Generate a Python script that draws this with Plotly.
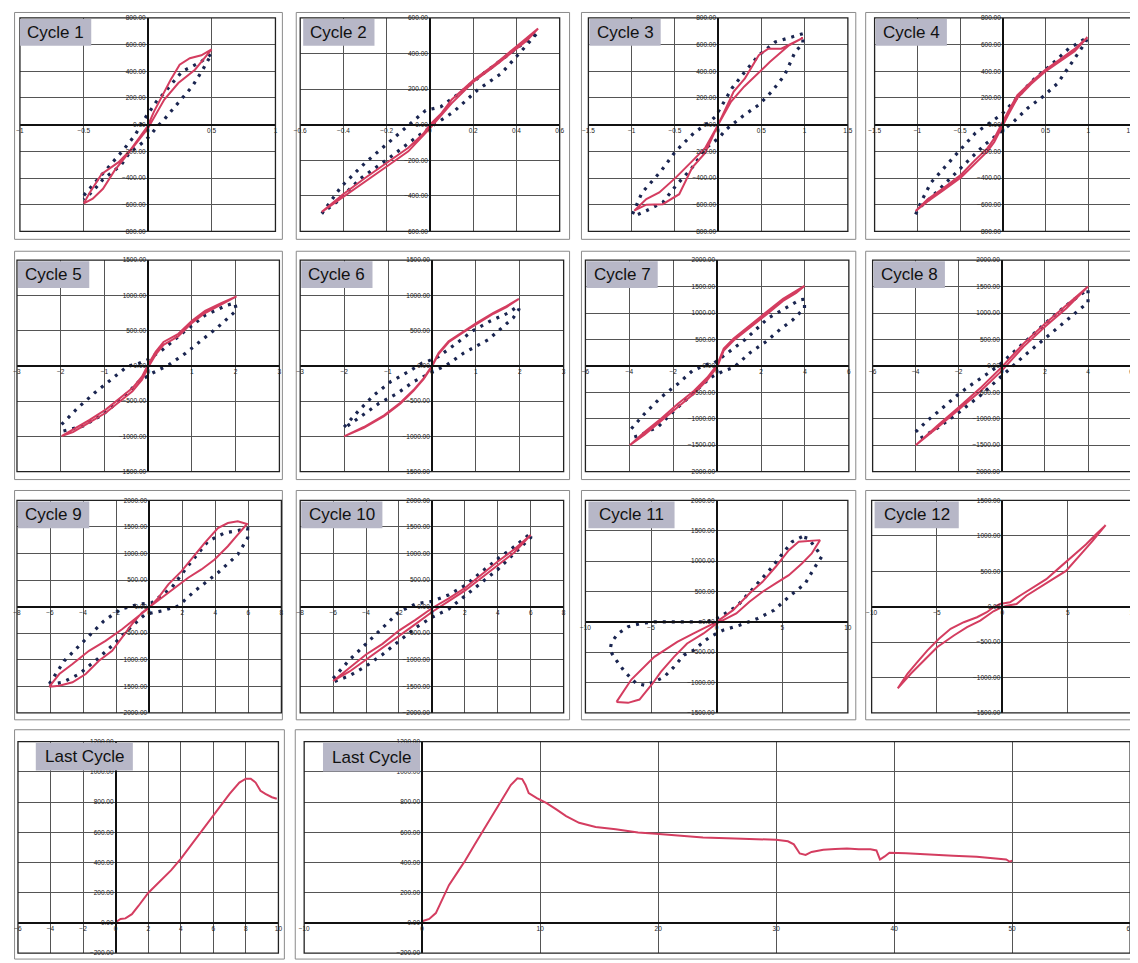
import plotly.graph_objects as go

# ======================= DATA =======================
# Cycle 1
c1_red_x = [-0.5, -0.46, -0.36, -0.23, -0.14, 0.0, 0.05, 0.18, 0.25, 0.33, 0.42, 0.5,
            0.37, 0.24, 0.13, 0.0, -0.14, -0.26, -0.35, -0.43, -0.5]
c1_red_y = [-590, -520, -370, -283, -196, -10, 100, 337, 449, 498, 520, 565,
            412, 312, 188, -30, -200, -345, -481, -555, -590]
c1_dot_x = [-0.5, -0.4, -0.3, -0.2, -0.1, -0.02, 0.07, 0.13, 0.2, 0.27, 0.35, 0.42, 0.5,
            0.43, 0.35, 0.28, 0.2, 0.13, 0.07, 0.02, -0.03, -0.14, -0.21, -0.35, -0.43, -0.5]
c1_dot_y = [-530, -420, -310, -200, -80, 50, 176, 238, 320, 400, 437, 474, 530,
            411, 288, 213, 120, 40, -20, -80, -128, -208, -305, -410, -500, -560]

# Cycle 2
c2_red_x = [-0.5, -0.4, -0.3, -0.2, -0.1, -0.03, 0.0, 0.05, 0.1, 0.2, 0.3, 0.4, 0.5,
            0.45, 0.4, 0.3, 0.2, 0.1, 0.0, -0.1, -0.2, -0.3, -0.4, -0.5]
c2_red_y = [-490, -390, -300, -215, -130, -50, 0, 60, 140, 250, 340, 440, 540,
            475, 425, 330, 240, 120, -20, -150, -235, -320, -410, -490]
c2_dot_x = [-0.5, -0.41, -0.3, -0.2, -0.1, -0.02, 0.05, 0.15, 0.25, 0.35, 0.45, 0.5,
            0.42, 0.33, 0.22, 0.11, 0.02, -0.07, -0.19, -0.32, -0.43, -0.5]
c2_dot_y = [-500, -348, -215, -110, 0, 80, 100, 190, 290, 380, 470, 520,
            410, 288, 195, 73, 0, -77, -189, -301, -433, -500]

# Cycle 3
c3_red_x = [-0.97, -0.83, -0.68, -0.49, -0.30, -0.15, 0.0, 0.18, 0.31, 0.47, 0.58, 0.73, 0.98,
            0.82, 0.6, 0.48, 0.3, 0.15, 0.0, -0.15, -0.30, -0.45, -0.64, -0.83, -0.97]
c3_red_y = [-645, -558, -508, -397, -273, -174, 0, 248, 347, 521, 570, 570, 650,
            595, 471, 397, 285, 173, 0, -211, -322, -521, -596, -600, -645]
c3_dot_x = [-0.99, -0.88, -0.66, -0.49, -0.28, -0.09, -0.03, 0.07, 0.16, 0.31, 0.47, 0.66, 0.85, 0.98,
            0.98, 0.89, 0.77, 0.62, 0.47, 0.28, 0.09, 0.01, -0.14, -0.30, -0.49, -0.64, -0.83, -0.96]
c3_dot_y = [-670, -509, -347, -198, -62, 25, 62, 174, 273, 397, 521, 620, 657, 682,
            608, 546, 372, 248, 149, 62, -37, -99, -174, -322, -459, -583, -645, -682]

# Cycle 4
c4_red_x = [-1.02, -0.88, -0.69, -0.49, -0.34, -0.18, -0.1, -0.02, 0.06, 0.17, 0.33, 0.49, 0.68, 0.84, 0.99,
            0.84, 0.68, 0.49, 0.33, 0.17, 0.06, -0.02, -0.1, -0.18, -0.34, -0.49, -0.69, -0.88, -1.02]
c4_red_y = [-647, -560, -474, -375, -275, -176, -102, -2, 97, 221, 320, 407, 494, 568, 655,
            550, 480, 395, 305, 200, 70, -30, -130, -200, -300, -395, -490, -575, -647]
c4_dot_x = [-1.02, -0.94, -0.84, -0.69, -0.53, -0.32, -0.16, -0.02, 0.13, 0.33, 0.56, 0.77, 0.99,
            0.97, 0.80, 0.64, 0.47, 0.29, 0.13, -0.02, -0.21, -0.41, -0.57, -0.72, -0.88, -1.0]
c4_dot_y = [-672, -558, -434, -323, -211, -62, 12, 74, 174, 322, 446, 570, 655,
            620, 459, 310, 211, 124, 25, -50, -149, -273, -372, -471, -571, -633]

# Cycle 5
c5_red_x = [-1.98, -1.72, -1.34, -0.97, -0.66, -0.36, -0.14, 0.0, 0.17, 0.35, 0.69, 1.0, 1.3, 1.68, 2.02,
            1.68, 1.3, 1.0, 0.69, 0.35, 0.17, 0.0, -0.14, -0.36, -0.66, -0.97, -1.34, -1.72, -1.98]
c5_red_y = [-995, -905, -765, -620, -465, -315, -150, 20, 200, 340, 455, 640, 780, 895, 986,
            870, 750, 610, 420, 300, 160, -20, -195, -360, -510, -665, -800, -940, -995]
c5_dot_x = [-1.98, -1.61, -1.23, -0.89, -0.48, -0.21, -0.02, 0.32, 0.77, 1.3, 1.79, 1.98,
            2.02, 1.6, 1.22, 0.85, 0.47, 0.09, -0.21, -0.63, -1.04, -1.49, -1.95]
c5_dot_y = [-831, -596, -385, -221, -9, 38, 85, 225, 460, 718, 859, 892,
            789, 554, 366, 178, 14, -103, -221, -479, -690, -854, -925]

# Cycle 6
c6_red_x = [-2.0, -1.55, -1.09, -0.72, -0.42, -0.19, 0.0, 0.15, 0.38, 0.72, 1.02, 1.4, 1.7, 1.98,
            1.7, 1.4, 1.02, 0.72, 0.38, 0.15, 0.0, -0.19, -0.42, -0.72, -1.09, -1.55, -2.0]
c6_red_y = [-1000, -867, -700, -524, -343, -176, 0, 181, 348, 490, 610, 752, 848, 952,
            835, 740, 598, 478, 335, 168, -12, -188, -355, -536, -712, -879, -1000]
c6_dot_x = [-2.0, -1.66, -1.32, -0.94, -0.53, -0.23, -0.11, 0.15, 0.57, 0.91, 1.32, 1.74, 1.96,
            1.98, 1.85, 1.28, 0.72, 0.34, -0.04, -0.42, -0.79, -1.21, -1.58, -1.96]
c6_dot_y = [-867, -629, -414, -224, -81, 38, 62, 133, 324, 490, 633, 752, 848,
            800, 681, 371, 181, 14, -105, -224, -390, -533, -700, -867]

# Cycle 7
c7_red_x = [-3.98, -3.31, -2.56, -1.8, -1.05, -0.45, 0.0, 0.3, 0.75, 1.5, 2.18, 3.0, 3.6, 3.98,
            3.6, 3.0, 2.18, 1.5, 0.75, 0.3, 0.0, -0.45, -1.05, -1.8, -2.56, -3.31, -3.98]
c7_red_y = [-1500, -1250, -1000, -720, -470, -220, 20, 330, 520, 770, 990, 1270, 1420, 1512,
            1380, 1230, 950, 730, 480, 290, -20, -270, -520, -780, -1050, -1300, -1500]
c7_dot_x = [-3.91, -3.31, -2.56, -1.8, -1.13, -0.45, -0.15, 0.3, 1.28, 2.33, 3.08, 3.76, 3.98,
            3.98, 3.46, 2.86, 2.26, 1.5, 0.75, 0.3, -0.3, -1.05, -1.95, -2.7, -3.53, -3.98]
c7_dot_y = [-1188, -906, -594, -344, -94, 31, 50, 188, 500, 906, 1094, 1250, 1262,
            1094, 875, 688, 469, 250, -31, -94, -219, -500, -844, -1156, -1312, -1375]

# Cycle 8
c8_red_x = [-4, -3, -2, -1, 0, 1, 2, 3, 4, 3, 2, 1, 0, -1, -2, -3, -4]
c8_red_y = [-1500, -1130, -780, -420, -20, 420, 800, 1150, 1500,
            1090, 740, 360, -90, -480, -830, -1170, -1500]
c8_dot_x = [-4, -3.5, -3, -2.5, -2, -1.5, -1, -0.5, 0, 0.5, 1, 2, 3, 4,
            4, 3, 2, 1, 0, -1, -2, -3, -4]
c8_dot_y = [-1250, -1050, -880, -700, -530, -380, -240, -100, 60, 250, 420, 800, 1150, 1450,
            1200, 850, 520, 180, -200, -560, -880, -1180, -1420]

# Cycle 9
c9_red_x = [-6.04, -5.44, -4.64, -3.64, -2.64, -1.64, -0.64, 0.0, 0.56, 1.16, 1.96, 2.76, 3.36, 4.16, 4.76, 5.36, 5.92,
            5.36, 4.76, 3.96, 3.16, 2.36, 1.56, 0.76, 0.16, -0.44, -1.04, -1.64, -2.24, -3.04, -3.84, -4.64, -5.44, -6.04]
c9_red_y = [-1506, -1269, -1081, -831, -644, -425, -175, -19, 169, 419, 669, 981, 1200, 1481, 1575, 1606, 1556,
            1356, 1138, 888, 700, 544, 356, 169, 44, -113, -331, -581, -831, -1019, -1269, -1425, -1488, -1506]
c9_dot_x = [-6.04, -5.14, -3.94, -2.74, -1.74, -0.64, 0.16, 1.36, 2.26, 3.56, 4.56, 5.96,
            5.96, 5.36, 4.16, 2.76, 1.76, 0.76, -0.24, -1.14, -2.14, -3.14, -4.24, -5.24, -6.04]
c9_dot_y = [-1456, -1019, -644, -269, -50, 44, 75, 356, 731, 1231, 1388, 1469,
            1294, 981, 638, 294, 12, -81, -144, -394, -706, -988, -1269, -1425, -1469]

# Cycle 10
c10_red_x = [-6, -5, -4, -3, -2, -1, 0, 1, 2, 3, 4, 5, 6,
             5, 4, 3, 2, 1, 0, -1, -2, -3, -4, -5, -6]
c10_red_y = [-1400, -1150, -900, -700, -450, -250, -30, 150, 350, 600, 850, 1080, 1350,
             1020, 780, 540, 300, 100, -100, -330, -550, -780, -1000, -1220, -1400]
c10_dot_x = [-6, -5, -4, -3, -2, -1, 0, 1, 2, 3, 4, 5, 6,
             6, 5, 4, 3, 2, 1, 0, -1, -2, -3, -4, -5, -6]
c10_dot_y = [-1350, -1000, -700, -400, -100, 50, 100, 220, 400, 650, 900, 1130, 1380,
             1300, 1000, 700, 450, 200, -50, -200, -400, -650, -900, -1120, -1300, -1420]

# Cycle 11
c11_red_x = [-7.63, -6.5, -4.75, -3, -1.75, -0.5, 0, 1.25, 2.5, 3.5, 4.5, 5.5, 6.25, 7.88,
             7.25, 6.5, 5.5, 4.5, 3.5, 2.5, 1.5, 0.5, 0, -1, -2.25, -3.25, -4.25, -4.88, -5.88, -6.75, -7.63]
c11_red_y = [-1319, -951, -577, -330, -192, -55, 0, 192, 467, 659, 907, 1181, 1319, 1346,
             1126, 962, 769, 632, 495, 330, 137, 27, -27, -192, -357, -577, -824, -1016, -1280, -1335, -1319]
c11_dot_x = [6.5, 5.75, 5.13, 4.25, 3, 1.63, 0.88, 0, -0.75, -2.25, -4.75, -5.75, -6.75, -7.5, -8, -8.13,
             -7.75, -7, -6.13, -5.5, -4.75, -4, -3.25, -2.5, -1.75, -1, -0.5, 0.5, 1.75, 3.13, 4.38,
             5.5, 6.75, 7.5, 8, 7.75, 7.25, 7, 6.5]
c11_dot_y = [1401, 1319, 1154, 907, 604, 275, 165, 55, 0, 0, 0, -27, -82, -192, -330, -467,
             -604, -824, -1016, -1044, -989, -907, -742, -549, -467, -330, -247, -137, -55, 55, 192,
             412, 632, 907, 1071, 1154, 1291, 1374, 1401]

# Cycle 12
c12_red_x = [-8.0, -7.25, -6.49, -5.73, -4.85, -3.96, -2.95, -1.94, -1.19, -0.68, -0.18, 0.58, 1.34, 2.35,
             3.36, 4.37, 5.38, 6.39, 7.15, 7.9,
             6.89, 5.88, 4.87, 3.86, 2.85, 1.84, 1.09, 0.33, -0.18, -0.68, -1.69, -2.7, -3.71, -4.97,
             -5.98, -6.99, -8.0]
c12_red_y = [-1154, -944, -780, -617, -453, -313, -220, -150, -79, -9, 37, 61, 154, 271,
             388, 551, 715, 879, 1019, 1150,
             925, 715, 505, 388, 271, 154, 37, 14, -19, -65, -196, -290, -407, -570,
             -757, -944, -1154]

# Last cycle (short view)
last_small_x = [0.0, 0.3, 0.6, 1.0, 1.4, 2.0, 2.6, 3.4, 4.0, 4.6, 5.4, 6.2, 7.0, 7.6, 8.0, 8.3,
                8.6, 8.9, 9.2, 9.6, 9.9]
last_small_y = [4, 26, 30, 58, 112, 198, 262, 348, 424, 510, 628, 746, 854, 929, 955, 955,
                929, 875, 854, 832, 822]

# Last cycle (full view)
last_big_x = [0.0, 0.6, 1.16, 1.7, 2.27, 3.1, 3.65, 4.48, 5.3, 6.13, 6.96, 7.51, 8.07, 8.48, 8.76,
              9.03, 9.72, 10.55, 11.4, 12.2, 13.3, 14.7, 16.4, 18.3, 19.8, 21.9, 23.8, 26.5,
              28, 30, 31, 31.5, 32, 32.5, 33, 34, 35, 36, 37, 38, 38.5, 38.8, 39.2, 39.6,
              41, 43, 45, 47, 48.5, 49.5, 49.8, 50]
last_big_y = [11, 26, 65, 152, 250, 348, 413, 522, 630, 739, 848, 913, 957, 952, 913,
              859, 826, 793, 750, 707, 663, 635, 620, 598, 591, 576, 565, 559,
              555, 550, 540, 520, 460, 450, 470, 485, 490, 492, 488, 487, 480, 420, 440, 465,
              462, 452, 445, 438, 430, 420, 405, 412]

panel_titles = ["Cycle 1", "Cycle 2", "Cycle 3", "Cycle 4", "Cycle 5", "Cycle 6", "Cycle 7",
                "Cycle 8", "Cycle 9", "Cycle 10", "Cycle 11", "Cycle 12", "Last Cycle", "Last Cycle"]

red_series = [(c1_red_x, c1_red_y), (c2_red_x, c2_red_y), (c3_red_x, c3_red_y), (c4_red_x, c4_red_y),
              (c5_red_x, c5_red_y), (c6_red_x, c6_red_y), (c7_red_x, c7_red_y), (c8_red_x, c8_red_y),
              (c9_red_x, c9_red_y), (c10_red_x, c10_red_y), (c11_red_x, c11_red_y), (c12_red_x, c12_red_y),
              (last_small_x, last_small_y), (last_big_x, last_big_y)]
dot_series = [(c1_dot_x, c1_dot_y), (c2_dot_x, c2_dot_y), (c3_dot_x, c3_dot_y), (c4_dot_x, c4_dot_y),
              (c5_dot_x, c5_dot_y), (c6_dot_x, c6_dot_y), (c7_dot_x, c7_dot_y), (c8_dot_x, c8_dot_y),
              (c9_dot_x, c9_dot_y), (c10_dot_x, c10_dot_y), (c11_dot_x, c11_dot_y), None, None, None]

# ======================= LAYOUT CONFIG =======================
W, H = 1138, 963
OX, OY = 8, 8   # page offset of the figure (body margin) - boxes below are screen pixels
# plot-area boxes in screen pixels (left, top, right, bottom), axis ranges and grid steps
panels = [
    dict(box=(14, 14, 272, 229), xr=(-1, 1), yr=(-800, 800), dx=0.5, dy=200),
    dict(box=(297, 14, 559, 229), xr=(-0.6, 0.6), yr=(-600, 600), dx=0.2, dy=200),
    dict(box=(588, 14, 850, 229), xr=(-1.5, 1.5), yr=(-800, 800), dx=0.5, dy=200),
    dict(box=(877, 14, 1136, 229), xr=(-1.5, 1.5), yr=(-800, 800), dx=0.5, dy=200),
    dict(box=(11, 258, 276, 471), xr=(-3, 3), yr=(-1500, 1500), dx=1, dy=500),
    dict(box=(297, 258, 563, 471), xr=(-3, 3), yr=(-1500, 1500), dx=1, dy=500),
    dict(box=(585, 258, 851, 471), xr=(-6, 6), yr=(-2000, 2000), dx=2, dy=500),
    dict(box=(875, 258, 1136, 471), xr=(-6, 6), yr=(-2000, 2000), dx=2, dy=500),
    dict(box=(11, 500, 278, 714), xr=(-8, 8), yr=(-2000, 2000), dx=2, dy=500),
    dict(box=(297, 500, 563, 714), xr=(-8, 8), yr=(-2000, 2000), dx=2, dy=500),
    dict(box=(585, 500, 850, 714), xr=(-10, 10), yr=(-1500, 2000), dx=5, dy=500),
    dict(box=(874, 500, 1138, 714), xr=(-10, 10), yr=(-1500, 1500), dx=5, dy=500),
    dict(box=(12, 743, 275, 956), xr=(-6, 10), yr=(-200, 1200), dx=2, dy=200),
    dict(box=(301, 743, 1135, 956), xr=(-10, 60), yr=(-200, 1200), dx=10, dy=200),
]
title_boxes = [  # (offset from plot left, width, height)
    (0, 72, 27), (3, 72, 27), (1, 72, 27), (1, 72, 27),
    (1, 72, 27), (1, 72, 27), (1, 72, 27), (1, 72, 27),
    (1, 72, 27), (1, 82, 27), (3, 87, 27), (3, 85, 27),
    (18, 98, 28), (19, 98, 29),
]
frames = [
    (3, 4, 279, 237), (293, 4, 569, 237), (581, 4, 858, 237), (868, 4, 1137, 237),
    (3, 249, 279, 479), (293, 249, 569, 479), (581, 249, 858, 479), (868, 249, 1137, 479),
    (3, 490, 279, 721), (293, 490, 569, 721), (581, 490, 858, 721), (868, 490, 1137, 721),
    (3, 731, 281, 962), (292, 731, 1137, 962),
]

RED = "#d43d60"
NAVY = "#1a2550"
GRID = "#555555"
FONT = "Liberation Sans"


def px(xs):
    return (xs - OX) / W


def py(ys):
    return 1 - (ys - OY) / H


fig = go.Figure()
layout = dict(width=W, height=H, margin=dict(l=0, r=0, t=0, b=0),
              paper_bgcolor="white", plot_bgcolor="white", showlegend=False)
shapes, annotations = [], []

for i, p in enumerate(panels):
    n = i + 1
    sfx = "" if n == 1 else str(n)
    l, t, r, b = p["box"]
    x0, x1 = p["xr"]
    y0, y1 = p["yr"]
    zero_x_px = l + (0 - x0) / (x1 - x0) * (r - l)
    zero_y_px = t + (y1 - 0) / (y1 - y0) * (b - t)
    tf = dict(size=6.5, color="#222222", family=FONT)
    layout["xaxis" + sfx] = dict(
        domain=[px(l), px(r)], range=[x0, x1], dtick=p["dx"], tick0=0,
        anchor="free", position=py(zero_y_px),
        showgrid=True, gridcolor=GRID, gridwidth=1, zeroline=False,
        showline=True, linecolor="#111111", linewidth=1.5,
        ticks="", tickfont=tf, fixedrange=True)
    layout["yaxis" + sfx] = dict(
        domain=[py(b), py(t)], range=[y0, y1], dtick=p["dy"], tick0=0,
        anchor="free", position=px(zero_x_px), tickformat=".2f",
        showgrid=True, gridcolor=GRID, gridwidth=1, zeroline=False,
        showline=True, linecolor="#111111", linewidth=1.5,
        ticks="", tickfont=tf, fixedrange=True)

    ds = dot_series[i]
    if ds is not None:
        fig.add_trace(go.Scatter(x=ds[0], y=ds[1], mode="lines", xaxis="x" + sfx, yaxis="y" + sfx,
                                 line=dict(color=NAVY, width=3.2, dash="3px,6px"), hoverinfo="skip"))
    rs = red_series[i]
    fig.add_trace(go.Scatter(x=rs[0], y=rs[1], mode="lines", xaxis="x" + sfx, yaxis="y" + sfx,
                             line=dict(color=RED, width=2), hoverinfo="skip"))

    # plot-area border
    shapes.append(dict(type="rect", xref="x" + sfx + " domain", yref="y" + sfx + " domain",
                       x0=0, x1=1, y0=0, y1=1, line=dict(color="#222222", width=1.3), layer="above"))
    # title box
    off, bw, bh = title_boxes[i]
    bx0, by0 = l + off, t + 1
    shapes.append(dict(type="rect", xref="paper", yref="paper",
                       x0=px(bx0), x1=px(bx0 + bw), y0=py(by0 + bh), y1=py(by0),
                       fillcolor="#b7b7c7", line=dict(width=0), layer="above"))
    annotations.append(dict(text=panel_titles[i], xref="paper", yref="paper",
                            x=px(bx0 + bw / 2), y=py(by0 + bh / 2),
                            xanchor="center", yanchor="middle", showarrow=False,
                            font=dict(size=17, color="#111111", family=FONT)))

for (l, t, r, b) in frames:
    shapes.append(dict(type="rect", xref="paper", yref="paper",
                       x0=max(px(l), 0.0005), x1=min(px(r), 0.9995),
                       y0=max(py(b), 0.0005), y1=min(py(t), 0.9995),
                       line=dict(color="#8a8a8a", width=1), layer="below"))

layout["shapes"] = shapes
layout["annotations"] = annotations
fig.update_layout(**layout)
fig.write_html("out.html")
